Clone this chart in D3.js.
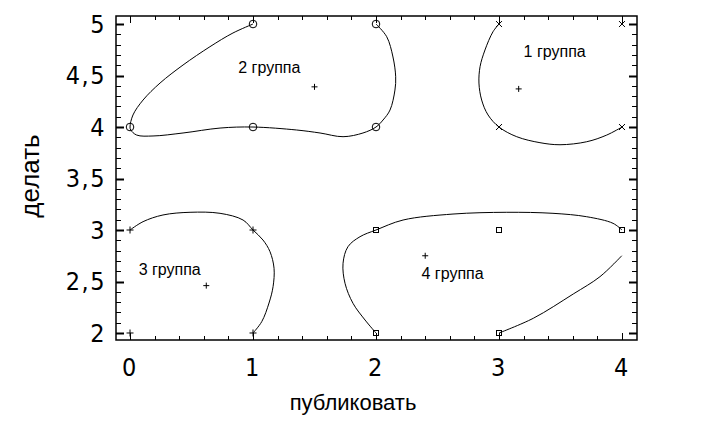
<!DOCTYPE html>
<html>
<head>
<meta charset="utf-8">
<script src="https://cdn.jsdelivr.net/npm/d3@7"></script>
<style>
  body { margin: 0; background: #fff; }
  text { font-family: "Liberation Sans", Arial, sans-serif; fill: #000; }
  .tick-label { font-family: "Liberation Sans Narrow", "Arial Narrow", "DejaVu Sans Condensed", sans-serif; font-size: 25px; letter-spacing: 1.5px; }
</style>
</head>
<body>
<div id="div"></div>
<script>
// группы: точки, центр и подпись
var group1Points = [[3, 5], [4, 5], [3, 4], [4, 4]];
var group2Points = [[0, 4], [1, 5], [2, 5], [2, 4], [1, 4]];
var group3Points = [[0, 3], [1, 3], [0, 2], [1, 2]];
var group4Points = [[2, 3], [3, 3], [4, 3], [2, 2], [3, 2]];

var centers = [[3.16, 4.37], [1.5, 4.39], [0.62, 2.46], [2.4, 2.75]];
var labels = ["1 группа", "2 группа", "3 группа", "4 группа"];
var labelPos = [[3.2, 4.68], [0.88, 4.52], [0.07, 2.56], [2.37, 2.52]];

// контуры (не замкнутые)
var group1Curve = [[3, 5], [2.951, 4.925], [2.886, 4.748], [2.846, 4.586], [2.837, 4.427],
  [2.859, 4.262], [2.911, 4.117], [3, 4], [3.144, 3.906], [3.333, 3.848], [3.496, 3.828],
  [3.713, 3.857], [3.876, 3.922], [4, 4]];
var group2Curve = [[2, 5], [2.087, 4.877], [2.138, 4.68], [2.16, 4.488], [2.154, 4.359],
  [2.114, 4.165], [2.057, 4.068], [2, 4], [1.894, 3.942], [1.732, 3.906], [1.545, 3.942],
  [1.355, 3.971], [1, 4], [0.732, 3.99], [0.431, 3.942], [0.187, 3.913], [0.054, 3.922],
  [0.006, 3.971], [0, 4], [0.024, 4.117], [0.106, 4.262], [0.244, 4.427], [0.431, 4.602],
  [0.65, 4.78], [0.837, 4.913], [1, 5]];
var group3Curve = [[0, 3], [0.106, 3.081], [0.268, 3.146], [0.488, 3.172], [0.732, 3.162],
  [0.919, 3.097], [1, 3], [1.081, 2.903], [1.138, 2.79], [1.171, 2.628], [1.163, 2.45],
  [1.13, 2.291], [1.071, 2.11], [1, 2]];
var group4Curve = [[4, 3], [3.927, 3.065], [3.713, 3.129], [3.439, 3.162], [3.063, 3.172],
  [2.626, 3.155], [2.22, 3.097], [2, 3], [1.87, 2.935], [1.772, 2.838], [1.732, 2.677],
  [1.748, 2.483], [1.813, 2.288], [1.911, 2.126], [2, 2]];
var group4Tail = [[3, 2], [3.279, 2.143], [3.604, 2.379], [3.821, 2.547], [3.998, 2.75]];

var xTicks = [0, 1, 2, 3, 4];
var yTicks = [2, 2.5, 3, 3.5, 4, 4.5, 5];
var yTickLabels = ["2", "2,5", "3", "3,5", "4", "4,5", "5"];

var width = 707,
  height = 443,
  frame = { left: 116, right: 637, top: 16, bottom: 340 };

var svg = d3.select("#div")
  .append("svg")
  .attr("width", width)
  .attr("height", height);

var xScale = d3.scaleLinear()
  .domain([-0.114, 4.122])
  .range([frame.left, frame.right]);
var yScale = d3.scaleLinear()
  .domain([1.932, 5.078])
  .range([frame.bottom, frame.top]);

// рамка
svg.append("rect")
  .attr("x", frame.left)
  .attr("y", frame.top)
  .attr("width", frame.right - frame.left)
  .attr("height", frame.bottom - frame.top)
  .attr("fill", "none")
  .attr("stroke", "#000")
  .attr("stroke-width", 1.5);

// мелкие и крупные риски
var xMinor = d3.range(0, 4.01, 0.2);
var yMinor = d3.range(2, 5.01, 0.1);
var axisLine = svg.append("g").attr("stroke", "#000").attr("stroke-width", 1);

xMinor.forEach(function (v) {
  var major = Math.abs(v - Math.round(v)) < 1e-6;
  var len = major ? 7 : 4;
  var px = Math.round(xScale(v)) + 0.5;
  axisLine.append("line").attr("x1", px).attr("x2", px)
    .attr("y1", frame.bottom).attr("y2", frame.bottom - len);
  axisLine.append("line").attr("x1", px).attr("x2", px)
    .attr("y1", frame.top).attr("y2", frame.top + len);
});

yMinor.forEach(function (v) {
  var major = Math.abs(v * 2 - Math.round(v * 2)) < 1e-6;
  var len = major ? 8 : 5;
  var py = Math.round(yScale(v)) + 0.5;
  axisLine.append("line").attr("y1", py).attr("y2", py)
    .attr("x1", frame.left).attr("x2", frame.left + len)
    .attr("stroke-width", major ? 2 : 1);
  axisLine.append("line").attr("y1", py).attr("y2", py)
    .attr("x1", frame.right).attr("x2", frame.right - len)
    .attr("stroke-width", major ? 2 : 1);
});

// подписи осей
svg.selectAll(".xlab")
  .data(xTicks)
  .enter().append("text")
  .attr("class", "tick-label")
  .attr("x", function (d) { return xScale(d); })
  .attr("y", 376)
  .attr("text-anchor", "middle")
  .text(function (d) { return d; });

svg.selectAll(".ylab")
  .data(yTicks)
  .enter().append("text")
  .attr("class", "tick-label")
  .attr("x", 106)
  .attr("y", function (d) { return yScale(d); })
  .attr("dy", "0.35em")
  .attr("text-anchor", "end")
  .text(function (d, i) { return yTickLabels[i]; });

svg.append("text")
  .attr("x", 353)
  .attr("y", 410)
  .attr("text-anchor", "middle")
  .attr("font-size", "22px")
  .text("публиковать");

svg.append("text")
  .attr("transform", "translate(39,176) rotate(-90)")
  .attr("text-anchor", "middle")
  .attr("font-size", "26px")
  .text("делать");

// контуры групп
var line = d3.line()
  .x(function (d) { return xScale(d[0]); })
  .y(function (d) { return yScale(d[1]); })
  .curve(d3.curveCatmullRom.alpha(0.5));

[group1Curve, group2Curve, group3Curve, group4Curve, group4Tail].forEach(function (c) {
  svg.append("path")
    .attr("d", line(c))
    .attr("fill", "none")
    .attr("stroke", "#000")
    .attr("stroke-width", 1);
});

// маркеры
var marks = svg.append("g").attr("stroke", "#000").attr("fill", "none").attr("stroke-width", 1);

group1Points.forEach(function (p) {
  var cx = xScale(p[0]), cy = yScale(p[1]);
  marks.append("path").attr("d", "M" + (cx - 3) + "," + (cy - 3) + "L" + (cx + 3) + "," + (cy + 3) +
    "M" + (cx - 3) + "," + (cy + 3) + "L" + (cx + 3) + "," + (cy - 3));
});
group2Points.forEach(function (p) {
  marks.append("circle").attr("cx", xScale(p[0])).attr("cy", yScale(p[1])).attr("r", 3.8);
});
group3Points.forEach(function (p) {
  var cx = xScale(p[0]), cy = yScale(p[1]);
  marks.append("path").attr("d", "M" + (cx - 3.5) + "," + cy + "L" + (cx + 3.5) + "," + cy +
    "M" + cx + "," + (cy - 3.5) + "L" + cx + "," + (cy + 3.5));
});
group4Points.forEach(function (p) {
  marks.append("rect").attr("x", xScale(p[0]) - 2.5).attr("y", yScale(p[1]) - 2.5)
    .attr("width", 5).attr("height", 5);
});
centers.forEach(function (p) {
  var cx = xScale(p[0]), cy = yScale(p[1]);
  marks.append("path").attr("d", "M" + (cx - 3) + "," + cy + "L" + (cx + 3) + "," + cy +
    "M" + cx + "," + (cy - 3) + "L" + cx + "," + (cy + 3));
});

svg.selectAll(".glab")
  .data(labels)
  .enter().append("text")
  .attr("x", function (d, i) { return xScale(labelPos[i][0]); })
  .attr("y", function (d, i) { return yScale(labelPos[i][1]); })
  .attr("font-size", "16px")
  .text(function (d) { return d; });
</script>
</body>
</html>
